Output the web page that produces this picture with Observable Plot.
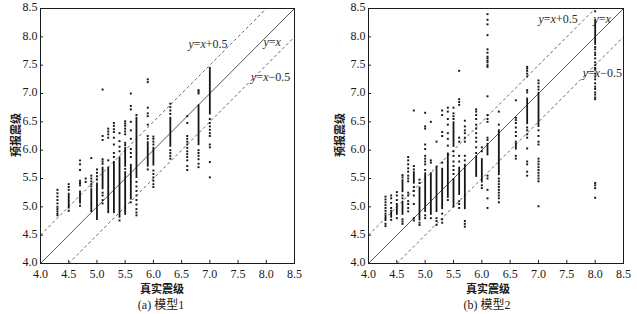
<!DOCTYPE html>
<html>
<head>
<meta charset="utf-8">
<script src="https://cdn.jsdelivr.net/npm/d3@7"></script>
<script src="https://cdn.jsdelivr.net/npm/@observablehq/plot@0.6"></script>
<style>
  html, body { margin: 0; padding: 0; background: #fff; }
  #wrap { position: relative; width: 637px; height: 314px; background: #fff; overflow: hidden; }
  .panel { position: absolute; top: 0; }
  .panel svg text { font-family: "Liberation Serif", serif; }
  .lab { position: absolute; transform: translate(-50%, -50%); white-space: nowrap; color: #1a1a1a; line-height: 1;
         font-family: "Liberation Serif", "Noto Sans CJK SC", serif; }
  .axl { font-family: "Noto Sans CJK SC", sans-serif; font-weight: 700; font-size: 11px; }
  .cap { font-size: 12px; }
  .rot { transform: translate(-50%, -50%) rotate(-90deg); }
</style>
</head>
<body>
<div id="wrap">
  <div id="p1" class="panel" style="left:0px"></div>
  <div id="p2" class="panel" style="left:318px"></div>
  <div class="lab axl" style="left:162px; top:288px">真实震级</div>
  <div class="lab axl rot" style="left:15px; top:135px">预报震级</div>
  <div class="lab cap" style="left:161px; top:304px">(a) <span style="font-family:'Noto Sans CJK SC'">模型</span>1</div>
  <div class="lab axl" style="left:488px; top:288px">真实震级</div>
  <div class="lab axl rot" style="left:339px; top:135px">预报震级</div>
  <div class="lab cap" style="left:487px; top:304px">(b) <span style="font-family:'Noto Sans CJK SC'">模型</span>2</div>
</div>
<script>
// ---- axis ticks ----
const tickValues = [4.0, 4.5, 5.0, 5.5, 6.0, 6.5, 7.0, 7.5, 8.0, 8.5];

// ---- reference lines y = x + offset ----
const refOffsets = [0, 0.5, -0.5];

// ---- model 1: columns (true magnitude), dense runs [lo, hi], sparse points ----
const m1X = [4.3, 4.5, 4.7, 4.8, 4.9, 5.0, 5.1, 5.2, 5.3, 5.4, 5.5, 5.6, 5.7, 5.9, 6.0, 6.3, 6.6, 6.8, 7.0];
const m1Dense = [
  [], [[4.96, 5.24]], [[5.05, 5.28]], [], [[4.9, 5.32]], [[4.76, 5.42]], [[5.3, 5.7]],
  [[4.88, 5.7]], [[4.88, 5.8]], [[4.8, 5.88]], [[5.7, 6.05], [4.85, 5.62]], [[5.12, 5.75]],
  [[5.5, 6.58]], [[5.7, 6.15]], [[5.72, 6.05]], [[6.05, 6.58]], [], [[6.08, 6.8]], [[6.62, 7.42]]
];
const m1Sparse = [
  [5.3, 5.24, 5.18, 5.12, 5.06, 5.0, 4.96, 4.92, 4.88, 4.85],
  [5.4, 5.35, 5.3, 4.93],
  [5.82, 5.75, 5.65, 5.46, 5.42, 5.38, 5.02],
  [5.5, 5.44],
  [5.86, 5.55, 5.5, 5.45, 5.4, 5.36],
  [5.66, 5.6, 5.54, 5.48],
  [7.07, 6.25, 6.18, 5.84, 5.8, 5.76, 5.25, 5.2, 5.12, 5.06],
  [6.38, 6.33, 6.28, 6.22, 5.82],
  [6.48, 6.43, 6.37, 6.32, 6.22, 6.1, 5.95, 5.88],
  [6.3, 6.16, 6.06, 5.98, 4.76],
  [6.51, 6.47, 6.43, 6.38, 6.33, 6.28, 6.13, 6.09, 5.67],
  [7.0, 6.78, 6.72, 6.5, 6.35, 6.2, 6.02, 5.95, 5.88, 5.08],
  [6.62, 5.44, 5.36, 5.28, 5.2, 5.12, 5.04, 4.96, 4.9, 4.85],
  [7.25, 7.2, 6.75, 6.65, 6.6, 6.45, 6.25, 6.2, 5.66],
  [6.24, 6.2, 6.15, 6.1, 5.64, 5.58, 5.52, 5.46, 5.4, 5.35],
  [6.82, 6.76, 6.7, 6.64, 6.0, 5.95, 5.9, 5.85],
  [6.6, 6.48, 6.25, 6.2, 6.15, 6.1, 6.04, 5.98, 5.93, 5.88, 5.82, 5.72, 5.65],
  [7.06, 7.03, 7.0, 6.0, 5.95, 5.9, 5.84, 5.76, 5.7],
  [7.45, 6.55, 6.48, 6.42, 6.36, 6.3, 6.25, 6.1, 6.05, 5.79, 5.52]
];

// ---- model 2 ----
const m2X = [4.3, 4.4, 4.5, 4.6, 4.7, 4.8, 4.9, 5.0, 5.1, 5.2, 5.3, 5.4, 5.5, 5.6, 5.7, 5.9, 6.0, 6.1, 6.3, 6.6, 6.8, 7.0, 8.0];
const m2Dense = [
  [[4.74, 4.85]], [[4.8, 4.9]], [[4.85, 5.02]], [[5.25, 5.48], [4.85, 5.1]], [], [[5.4, 5.62]],
  [[4.75, 5.35]], [[4.9, 5.6]], [[4.85, 5.6]], [[4.9, 5.72]], [[4.95, 5.68]], [[5.15, 5.95]],
  [[6.05, 6.5], [4.98, 5.5]], [[5.2, 5.7]], [[4.95, 5.75]], [[5.52, 5.9]], [[5.42, 5.85]],
  [[5.9, 6.12]], [[5.55, 6.36]], [[6.0, 6.12]], [[6.45, 6.92]], [[6.4, 7.02]], [[7.85, 8.3]]
];
const m2Sparse = [
  [5.18, 5.13, 5.08, 5.03, 4.98, 4.93, 4.88, 4.7, 4.66],
  [5.2, 5.15, 5.07, 4.98, 4.93, 4.77],
  [5.26, 5.2, 5.12, 5.05, 4.8],
  [5.56, 5.52, 5.2, 5.15, 4.78, 4.74, 4.7],
  [5.88, 5.82, 5.75, 5.68, 5.62, 5.55, 5.5, 5.45, 5.25, 5.2, 5.1, 5.05, 4.98, 4.92],
  [6.7, 5.72, 5.66, 5.35, 5.28, 5.2, 5.05, 4.8, 4.76],
  [5.48, 5.42, 4.72, 4.68],
  [6.66, 6.42, 6.38, 6.1, 6.02, 5.9, 5.85, 5.8, 5.75, 5.65, 4.85, 4.8],
  [6.5, 5.82, 5.78, 4.8],
  [6.15, 4.8, 4.75, 4.68],
  [6.7, 6.62, 6.32, 6.25, 5.78, 4.88, 4.78, 4.72],
  [6.75, 6.68, 6.55, 6.45, 6.3, 6.2, 6.08, 5.12],
  [6.75, 6.65, 6.6, 6.55, 5.98, 5.9, 5.8, 5.72, 5.65, 5.58],
  [7.4, 6.9, 6.85, 6.8, 6.22, 6.15, 5.9, 5.8, 5.1, 5.05, 4.98],
  [6.52, 6.42, 6.35, 6.3, 6.22, 6.15, 5.9, 5.82, 4.75, 4.7, 4.65],
  [6.72, 6.68, 6.62, 6.55, 6.45, 6.38, 6.3, 6.22, 6.15, 6.05, 5.95],
  [6.05, 5.98, 5.38, 5.33],
  [8.4, 8.3, 8.22, 8.03, 7.78, 7.72, 7.65, 7.62, 7.58, 7.55, 7.5, 7.47, 6.95, 6.62, 6.55, 6.5, 6.22, 6.18, 5.55, 5.5, 5.3, 5.15, 4.98],
  [6.68, 6.45, 5.5, 5.45, 5.4, 5.35, 5.3, 5.25, 5.2, 5.15, 5.08],
  [6.88, 6.57, 6.53, 6.48, 6.4, 6.32, 6.25, 6.15, 5.9, 5.85],
  [7.47, 7.44, 7.4, 7.35, 7.3, 7.06, 7.02, 6.4, 6.35, 6.28, 6.22, 6.03, 5.8, 5.75, 5.62, 5.55],
  [7.23, 7.18, 7.12, 7.07, 6.35, 6.25, 6.15, 6.1, 5.85, 5.8, 5.75, 5.7, 5.65, 5.6, 5.55, 5.5, 5.45, 5.01],
  [8.45, 7.82, 7.78, 7.72, 7.68, 7.62, 7.55, 7.5, 7.45, 7.42, 7.35, 7.3, 7.25, 7.18, 7.12, 7.08, 7.02, 6.98, 6.93, 6.9, 5.42, 5.38, 5.33, 5.16]
];

// ---- line labels [text, x, y] (text starts at x) ----
const m1Labels = [["y=x+0.5", 6.62, 7.87], ["y=x", 7.95, 7.9], ["y=x\u22120.5", 7.73, 7.29]];
const m2Labels = [["y=x+0.5", 7.0, 8.31], ["y=x", 7.97, 8.31], ["y=x\u22120.5", 7.78, 7.36]];

const SERIF = "Liberation Serif";

function buildPanel(xs, dense, sparse, labels, marginLeft, marginRight, width) {
  const runs = [];
  const pts = [];
  xs.forEach((x, i) => {
    dense[i].forEach(([lo, hi]) => runs.push({x, lo, hi}));
    sparse[i].forEach(y => pts.push({x, y}));
  });
  const lines = refOffsets.map(off => ({
    off,
    x1: off >= 0 ? 4 : 4 - off, y1: off >= 0 ? 4 + off : 4,
    x2: off >= 0 ? 8.5 - off : 8.5, y2: off >= 0 ? 8.5 : 8.5 + off
  }));
  const lab = labels.map(([t, x, y]) => ({t, x, y}));
  const svg = Plot.plot({
    width, height: 295,
    marginLeft, marginRight, marginTop: 8, marginBottom: 32,
    style: {fontFamily: SERIF, fontSize: "12px", color: "#1a1a1a", background: "transparent"},
    x: {domain: [4, 8.5]},
    y: {domain: [4, 8.5]},
    marks: [
      Plot.link(lines.filter(d => d.off === 0), {x1: "x1", y1: "y1", x2: "x2", y2: "y2", stroke: "#444", strokeWidth: 0.9}),
      Plot.link(lines.filter(d => d.off !== 0), {x1: "x1", y1: "y1", x2: "x2", y2: "y2", stroke: "#555", strokeWidth: 0.9, strokeDasharray: "3,2.6"}),
      Plot.ruleX(runs, {x: "x", y1: "lo", y2: "hi", stroke: "#151515", strokeWidth: 1.8}),
      Plot.dot(pts, {x: "x", y: "y", symbol: "square", r: 1.1, fill: "#151515", stroke: "none"}),
      Plot.text(lab, {x: "x", y: "y", text: "t", textAnchor: "start", lineAnchor: "middle", fontSize: 12, fontFamily: SERIF, fill: "#2a2a2a"}),
      Plot.ruleX(tickValues.slice(1, -1), {x: d => d, y1: 4, y2: 4.055, stroke: "#222"}),
      Plot.ruleY(tickValues.slice(1, -1), {y: d => d, x1: 4, x2: 4.055, stroke: "#222"}),
      Plot.axisX({ticks: tickValues, tickFormat: d3.format(".1f"), tickSize: 0, tickPadding: 6, label: null, fontFamily: SERIF, fontSize: 12}),
      Plot.axisY({ticks: tickValues, tickFormat: d3.format(".1f"), tickSize: 0, tickPadding: 3, dy: -1, label: null, fontFamily: SERIF, fontSize: 12}),
      Plot.frame({stroke: "#1a1a1a", strokeWidth: 1})
    ]
  });
  // italicize variables in line labels
  const ns = "http://www.w3.org/2000/svg";
  const labelSet = new Set(labels.map(l => l[0]));
  d3.select(svg).selectAll("text").each(function() {
    if (this.childElementCount === 0 && labelSet.has(this.textContent)) {
      const s = this.textContent;
      this.textContent = "";
      s.split(/([xy])/).forEach(part => {
        if (!part) return;
        const t = document.createElementNS(ns, "tspan");
        if (part === "x" || part === "y") t.setAttribute("font-style", "italic");
        t.textContent = part;
        this.appendChild(t);
      });
    }
  });
  return svg;
}

document.getElementById("p1").appendChild(buildPanel(m1X, m1Dense, m1Sparse, m1Labels, 40, 24, 318));
document.getElementById("p2").appendChild(buildPanel(m2X, m2Dense, m2Sparse, m2Labels, 50, 14, 319));
</script>
</body>
</html>
